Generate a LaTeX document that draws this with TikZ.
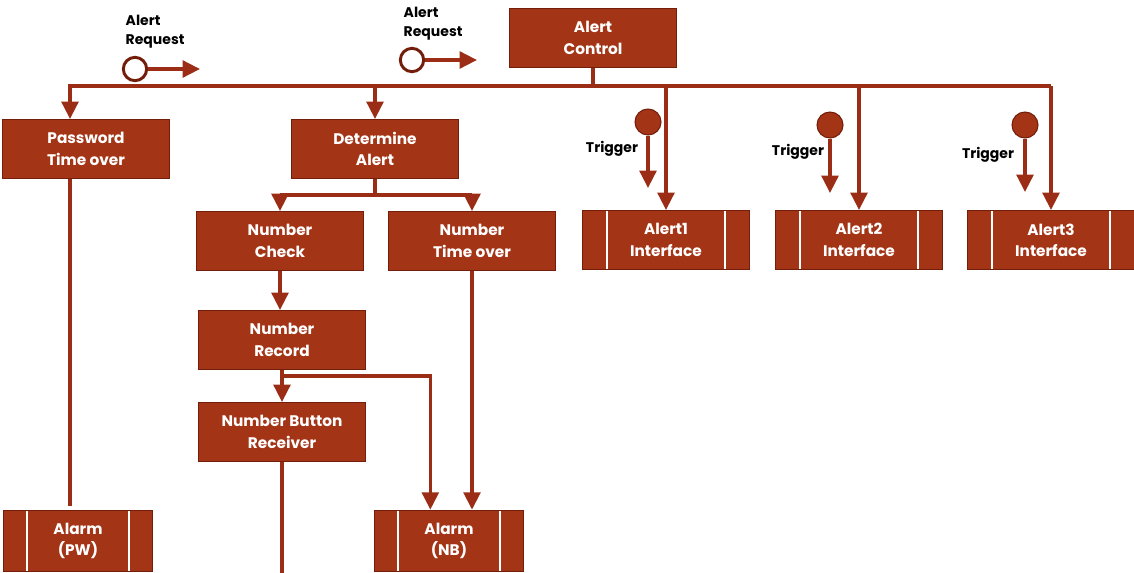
\documentclass[tikz,border=0pt]{standalone}
\usepackage{fontspec}
\setmainfont{Poppins}
\usetikzlibrary{arrows.meta}
\definecolor{boxred}{RGB}{163,52,22}
\definecolor{boxedge}{RGB}{115,30,10}
\definecolor{linkred}{RGB}{155,45,22}

\begin{document}
\begin{tikzpicture}[x=0.75pt,y=-0.75pt,
  box/.style={draw=boxedge,line width=1pt,fill=boxred,text=white,
    font=\fontsize{11.5}{16}\selectfont\bfseries,align=center,
    minimum width=125pt,minimum height=44pt,inner sep=0pt},
  ibox/.style={box,path picture={
    \draw[white,line width=1.6pt] ([xshift=18pt]path picture bounding box.north west) -- ([xshift=18pt]path picture bounding box.south west);
    \draw[white,line width=1.6pt] ([xshift=-18pt]path picture bounding box.north east) -- ([xshift=-18pt]path picture bounding box.south east);}},
  alarm/.style={ibox,minimum width=112pt,minimum height=46pt},
  link/.style={draw=linkred,line width=2.6pt},
  arr/.style={link,-{Triangle[length=13pt,width=12.5pt]}},
  req/.style={circle,draw=boxedge,fill=white,line width=2.2pt,minimum size=17.5pt,inner sep=0pt},
  trg/.style={circle,draw=boxedge,fill=boxred,line width=0.8pt,minimum size=19.5pt,inner sep=0pt},
  lbl/.style={font=\fontsize{10.5}{14}\selectfont\bfseries,align=left,text=black}]
\useasboundingbox (0,0) rectangle (1134,572);

% boxes
\node[box] (ctrl) at (593,38) {Alert\\Control};
\node[box] (pwd) at (86,149) {Password\\Time over};
\node[box] (det) at (375,149) {Determine\\Alert};
\node[box] (nchk) at (280,241) {Number\\Check};
\node[box] (ntime) at (472,241) {Number\\Time over};
\node[box] (nrec) at (282,340) {Number\\Record};
\node[box] (nbr) at (282,432) {Number Button\\Receiver};
\node[alarm] (apw) at (78,541) {Alarm\\(PW)};
\node[alarm] (anb) at (449,541) {Alarm\\(NB)};
\node[ibox] (if1) at (666,240) {Alert1\\Interface};
\node[ibox] (if2) at (859,240) {Alert2\\Interface};
\node[ibox] (if3) at (1051,240) {Alert3\\Interface};

% requests and triggers
\node[req] (req1) at (135,69) {};
\node[lbl,anchor=west] (req1lbl) at (121,32) {Alert\\Request};
\coordinate (req1end) at (200,69);
\draw[arr] (req1) -- (req1end);
\node[req] (req2) at (412,60) {};
\node[lbl,anchor=west] (req2lbl) at (399,24) {Alert\\Request};
\coordinate (req2end) at (477,60);
\draw[arr] (req2) -- (req2end);

\node[trg] (trg1) at (648,122) {};
\node[lbl] (trg1lbl) at (612,149) {Trigger};
\coordinate (trg1end) at (648,188);
\draw[arr] (trg1) -- (trg1end);
\node[trg] (trg2) at (830,125) {};
\node[lbl] (trg2lbl) at (798,152) {Trigger};
\coordinate (trg2end) at (830,193);
\draw[arr] (trg2) -- (trg2end);
\node[trg] (trg3) at (1025,125) {};
\node[lbl] (trg3lbl) at (988,155) {Trigger};
\coordinate (trg3end) at (1025,192);
\draw[arr] (trg3) -- (trg3end);

% connectors
\coordinate (busL) at (70,86);
\coordinate (busR) at (1051,86);
\draw[link] (ctrl.south) -- (ctrl.south |- busL);
\draw[arr] (busR) -- (busL) -- (busL |- pwd.north);
\draw[arr] (busR) -- (if3.north);
\draw[arr] (det.north |- busL) -- (det.north);
\draw[arr] (if1.north |- busL) -- (if1.north);
\draw[arr] (if2.north |- busL) -- (if2.north);

\coordinate (dsplit) at (375,195);
\draw[link] (det.south) -- (dsplit);
\draw[arr] (dsplit) -| (nchk.north);
\draw[arr] (dsplit) -| (ntime.north);
\draw[arr] (nchk.south) -- (nchk.south |- nrec.north);

\coordinate (rsplit) at (282,376);
\draw[arr] (nrec.south) -- (nbr.north);
\draw[arr] (rsplit) -| ([xshift=-14pt]anb.north);
\draw[arr] (ntime.south) -- (ntime.south |- anb.north);

\draw[link,shorten >=3pt] (busL |- pwd.south) -- (busL |- apw.north);
\coordinate (nbrend) at (282,580);
\draw[link] (nbr.south) -- (nbrend);
\end{tikzpicture}
\end{document}
